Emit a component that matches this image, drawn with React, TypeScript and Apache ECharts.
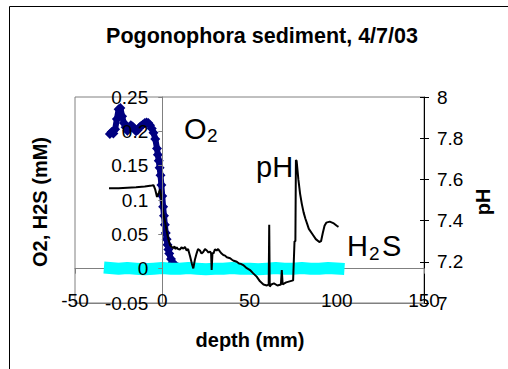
import React, { useEffect, useRef } from 'react';
import * as echarts from 'echarts';

// O2 profile (mM) vs depth (mm)
const o2Depth = [-30, -29, -28, -27, -26, -25, -24, -23, -22, -21, -20, -19, -18, -17, -16, -15, -14, -13, -12, -11, -10, -9, -8, -7, -6, -5, -4, -3, -2.5, -2, -1.5, -1, -0.5, 0, 0.5, 1, 1.5, 2, 2.5, 3, 3.5, 4, 5, 6, 7, 8, 9, 10];
const o2Value = [0.196, 0.199, 0.197, 0.203, 0.218, 0.232, 0.234, 0.222, 0.212, 0.206, 0.201, 0.204, 0.209, 0.207, 0.204, 0.2, 0.202, 0.206, 0.208, 0.21, 0.212, 0.213, 0.212, 0.209, 0.204, 0.198, 0.189, 0.175, 0.166, 0.157, 0.147, 0.136, 0.122, 0.106, 0.09, 0.077, 0.064, 0.052, 0.043, 0.035, 0.028, 0.022, 0.014, 0.009, 0.005, 0.003, 0.002, 0.001];

// H2S profile (mM) vs depth (mm)
const h2sDepth = [-30, -25, -20, -15, -10, -5, 0, 5, 10, 15, 20, 25, 30, 35, 40, 45, 50, 55, 60, 65, 70, 75, 80, 85, 90, 95, 101];
const h2sValue = [0.001, 0, 0.001, 0, -0.001, 0, 0.001, 0, 0, 0.001, 0, -0.001, 0, 0, 0.001, 0, 0, -0.001, 0, 0.001, 0, 0, 0.001, 0, 0, 0.001, 0];

// pH profile vs depth (mm)
const phDepth = [-30.5, -25, -20, -15, -10, -6, -5, -4, -3, -2, -1.2, -0.5, 0.5, 1.5, 2.5, 3.5, 4.5, 5.5, 6.3, 7, 7.5, 8.3, 9, 10.2, 11, 12.1, 13, 14, 14.8, 15.9, 17, 17.8, 18.7, 19.7, 20.5, 21.6, 22.5, 23.5, 24.5, 25.5, 26.5, 27.4, 28, 28.3, 28.8, 29.3, 30.2, 31.2, 32, 33.1, 34, 35, 36, 37, 38.9, 40, 41, 42.7, 44, 45, 46.4, 48, 50.3, 52, 54.1, 56, 58, 60, 61, 61.3, 61.6, 62.5, 64, 66, 68, 68.5, 69, 71, 73, 75, 75.8, 76.3, 76.6, 77, 78, 79, 80, 81, 82, 83, 84, 86, 88, 90, 91, 92, 93, 94, 96, 98, 100, 101];
const phValue = [7.557, 7.557, 7.56, 7.562, 7.565, 7.57, 7.572, 7.55, 7.515, 7.535, 7.552, 7.51, 7.44, 7.4, 7.35, 7.31, 7.28, 7.272, 7.266, 7.275, 7.262, 7.27, 7.262, 7.26, 7.27, 7.264, 7.272, 7.255, 7.262, 7.228, 7.19, 7.168, 7.21, 7.241, 7.262, 7.255, 7.24, 7.248, 7.262, 7.255, 7.245, 7.25, 7.24, 7.16, 7.245, 7.24, 7.26, 7.255, 7.262, 7.249, 7.24, 7.233, 7.23, 7.222, 7.217, 7.21, 7.205, 7.2, 7.192, 7.19, 7.184, 7.172, 7.16, 7.145, 7.128, 7.105, 7.09, 7.085, 7.09, 7.38, 7.08, 7.09, 7.095, 7.085, 7.09, 7.16, 7.09, 7.1, 7.105, 7.11, 7.3, 7.3, 7.694, 7.69, 7.6, 7.53, 7.48, 7.44, 7.41, 7.385, 7.36, 7.335, 7.31, 7.296, 7.3, 7.34, 7.375, 7.39, 7.395, 7.388, 7.375, 7.37];

const FONT = "'Liberation Sans', Arial, sans-serif";

export default function App() {
  const ref = useRef<HTMLDivElement>(null);
  useEffect(() => {
    const chart = echarts.init(ref.current!, null, { renderer: 'svg' });
    const zip = (a: number[], b: number[]) => a.map((x, i) => [x, b[i]]);
    const txt = (text: string, x: number, y: number, size: number, bold: boolean, align = 'center', rotation = 0) => ({
      type: 'text', x, y, rotation, silent: true, z: 100,
      style: { text, fontSize: size, fontWeight: bold ? 'bold' : 'normal', fontFamily: FONT, fill: '#000', align, verticalAlign: 'middle' },
    });
    chart.setOption({
      animation: false,
      backgroundColor: '#ffffff',
      grid: { left: 75, top: 97, right: 84, bottom: 66, show: true, borderColor: '#808080', borderWidth: 1, containLabel: false },
      xAxis: [
        {
          type: 'value', min: -50, max: 150, interval: 50, position: 'bottom', z: 5,
          axisLine: { show: true, onZero: false, lineStyle: { color: '#808080' } },
          axisTick: { show: false }, splitLine: { show: false },
          axisLabel: { margin: -12, color: '#000', fontSize: 19, fontFamily: FONT },
        },
        {
          type: 'value', min: -50, max: 150, interval: 50, position: 'bottom',
          axisLine: { show: true, onZero: true, onZeroAxisIndex: 0, lineStyle: { color: '#808080' } },
          axisTick: { show: true, length: 5, lineStyle: { color: '#808080' } },
          axisLabel: { show: false }, splitLine: { show: false },
        },
      ],
      yAxis: [
        {
          type: 'value', min: -0.05, max: 0.25, interval: 0.05, position: 'left', offset: -87.25, z: 5,
          axisLine: { show: true, onZero: false, lineStyle: { color: '#808080' } },
          axisTick: { show: true, length: 4, lineStyle: { color: '#808080' } },
          axisLabel: { margin: 14, color: '#000', fontSize: 19, fontFamily: FONT },
          splitLine: { show: false },
        },
        {
          type: 'value', min: 7, max: 8, interval: 0.2, position: 'right',
          axisLine: { show: true, onZero: false, lineStyle: { color: '#000' } },
          axisTick: { show: true, length: 5, lineStyle: { color: '#000' } },
          axisLabel: { margin: 13, color: '#000', fontSize: 19, fontFamily: FONT },
          splitLine: { show: false },
        },
        {
          type: 'value', min: 7, max: 8, interval: 0.2, position: 'right',
          axisLine: { show: false, onZero: false },
          axisTick: { show: true, inside: true, length: 4, lineStyle: { color: '#000' } },
          axisLabel: { show: false }, splitLine: { show: false },
        },
      ],
      series: [
        {
          type: 'line', name: 'O2', xAxisIndex: 0, yAxisIndex: 0, data: zip(o2Depth, o2Value),
          symbol: 'diamond', symbolSize: 10, showSymbol: true, z: 2,
          lineStyle: { width: 6, color: '#000080' }, itemStyle: { color: '#000080' },
        },
        {
          type: 'line', name: 'H2S', xAxisIndex: 0, yAxisIndex: 0, data: zip(h2sDepth, h2sValue),
          symbol: 'none', z: 3, lineStyle: { width: 12, color: '#00FFFF', cap: 'square' },
        },
        {
          type: 'line', name: 'pH', xAxisIndex: 0, yAxisIndex: 1, data: zip(phDepth, phValue),
          symbol: 'none', z: 4, lineStyle: { width: 2, color: '#000' },
        },
      ],
      graphic: [
        { type: 'rect', silent: true, shape: { x: 9.5, y: 6.5, width: 700, height: 500 }, style: { fill: 'none', stroke: '#000', lineWidth: 1 } },
        txt('Pogonophora sediment, 4/7/03', 262, 36, 21.5, true),
        txt('depth (mm)', 250, 340, 20, true),
        txt('O2, H2S (mM)', 40, 202, 20, true, 'center', Math.PI / 2),
        txt('pH', 483, 202, 20, true, 'center', Math.PI / 2),
        txt('O', 184, 129, 29, false, 'left'),
        txt('2', 207, 135, 19, false, 'left'),
        txt('pH', 256, 167, 29, false, 'left'),
        txt('H', 347, 245.5, 29, false, 'left'),
        txt('2', 369, 253.5, 19, false, 'left'),
        txt('S', 382, 245.5, 29, false, 'left'),
      ],
    });
    return () => chart.dispose();
  }, []);
  return <div ref={ref} style={{ position: 'fixed', left: 0, top: 0, width: 508, height: 369 }} />;
}
